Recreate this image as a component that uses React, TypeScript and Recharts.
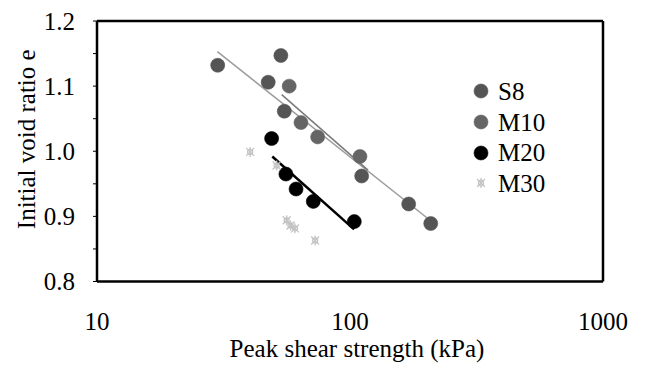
import React from "react";
import { ComposedChart, Scatter, XAxis, YAxis, Legend } from "recharts";

const S8_X = [30.0, 47.5, 53.3, 55.0, 111.2, 170.6, 208.5];
const S8_Y = [1.132, 1.106, 1.147, 1.0615, 0.962, 0.919, 0.889];
const M10_X = [57.5, 64.0, 74.5, 109.5];
const M10_Y = [1.1, 1.044, 1.022, 0.992];
const M20_X = [49.0, 55.8, 61.2, 71.6, 104];
const M20_Y = [1.0195, 0.965, 0.942, 0.923, 0.892];
const M30_X = [40.3, 51.3, 56.2, 58.2, 60.6, 72.8];
const M30_Y = [0.999, 0.978, 0.894, 0.886, 0.8816, 0.863];

// trend line end points
const S8_FIT_X = [29.9, 220];
const S8_FIT_Y = [1.153, 0.886];
const M10_FIT_X = [53.7, 117.8];
const M10_FIT_Y = [1.087, 0.971];
const M20_FIT_X = [49.3, 103.8];
const M20_FIT_Y = [0.992, 0.88];

const X_DOMAIN = [10, 1000];
const Y_DOMAIN = [0.8, 1.2];
const X_TICKS = [10, 100, 1000];
const Y_TICKS = [0.8, 0.85, 0.9, 0.95, 1.0, 1.05, 1.1, 1.15, 1.2];
const SERIES_NAMES = ["S8", "M10", "M20", "M30"];

const zip = (xs: number[], ys: number[]) => xs.map((x, i) => ({ x, y: ys[i] }));

const FONT = "'Liberation Serif', 'Times New Roman', serif";
const COLORS: Record<string, string> = {
  S8: "#555555",
  M10: "#656565",
  M20: "#000000",
  M30: "#c4c4c4",
};
const BORDER = { stroke: "#000", strokeWidth: 2.5 };

const Dot = ({ cx, cy, fill }: any) => (
  <circle cx={cx} cy={cy} r={7} fill={fill} stroke={fill} strokeOpacity={0.6} strokeWidth={1} />
);

const Star = ({ cx, cy }: any) => (
  <g stroke={COLORS.M30} strokeWidth={1.3}>
    <line x1={cx - 4} y1={cy - 4} x2={cx + 4} y2={cy + 4} />
    <line x1={cx - 4} y1={cy + 4} x2={cx + 4} y2={cy - 4} />
    <line x1={cx} y1={cy - 5} x2={cx} y2={cy + 5} />
    <circle cx={cx} cy={cy} r={2.5} fill="none" />
  </g>
);

const NoShape = () => <g />;

const LegendIcon = ({ name }: { name: string }) => (
  <svg width={16} height={16} style={{ display: "block" }}>
    {name === "M30" ? <Star cx={8} cy={8} /> : <Dot cx={8} cy={8} fill={COLORS[name]} />}
  </svg>
);

const renderLegend = () => (
  <div style={{ fontFamily: FONT, fontSize: 25, color: "#000" }}>
    {SERIES_NAMES.map((name) => (
      <div key={name} style={{ display: "flex", alignItems: "center", height: 30.7 }}>
        <LegendIcon name={name} />
        <span style={{ marginLeft: 9, lineHeight: 1 }}>{name}</span>
      </div>
    ))}
  </div>
);

const YTitle = ({ viewBox }: any) => {
  const cy = viewBox.y + viewBox.height / 2 - 12;
  return (
    <text
      x={26}
      y={cy}
      transform={`rotate(-90, 26, ${cy})`}
      textAnchor="middle"
      dominantBaseline="central"
      fontFamily={FONT}
      fontSize={25}
      fill="#000"
    >
      Initial void ratio e
    </text>
  );
};

export default function App() {
  const tickStyle = { fontFamily: FONT, fontSize: 25, fill: "#000" };
  return (
    <div style={{ position: "absolute", left: 0, top: 0, background: "#fff" }}>
      <ComposedChart
        width={645}
        height={365}
        margin={{ top: 20, right: 41, bottom: 0, left: 0 }}
      >
        <XAxis
          type="number"
          dataKey="x"
          scale="log"
          domain={X_DOMAIN}
          ticks={X_TICKS}
          axisLine={BORDER}
          tickLine={false}
          tickSize={0}
          tickMargin={31}
          tick={tickStyle}
          height={83.5}
          label={{
            value: "Peak shear strength (kPa)",
            position: "insideBottom",
            offset: 8,
            dx: 7,
            style: { fontFamily: FONT, fontSize: 25, fill: "#000" },
          }}
        />
        <XAxis
          xAxisId="top"
          orientation="top"
          type="number"
          dataKey="x"
          scale="log"
          domain={X_DOMAIN}
          ticks={X_TICKS}
          axisLine={BORDER}
          tick={false}
          tickLine={false}
          height={1}
        />
        <YAxis
          type="number"
          dataKey="y"
          domain={Y_DOMAIN}
          ticks={Y_TICKS}
          interval={0}
          width={97}
          axisLine={BORDER}
          tickSize={4}
          tickLine={{ stroke: "#000", strokeWidth: 1 }}
          tickMargin={18}
          tick={tickStyle}
          tickFormatter={(v: number) =>
            Math.abs(v * 10 - Math.round(v * 10)) < 1e-6 ? v.toFixed(1) : ""
          }
          label={<YTitle />}
        />
        <YAxis
          yAxisId="right"
          orientation="right"
          type="number"
          dataKey="y"
          domain={Y_DOMAIN}
          ticks={Y_TICKS}
          axisLine={BORDER}
          tick={false}
          tickLine={false}
          width={1}
        />
        {/* the S8 fit sits on the mirrored top/right axes (same domains) so those frame sides are drawn */}
        <Scatter
          name="S8 fit"
          xAxisId="top"
          yAxisId="right"
          data={zip(S8_FIT_X, S8_FIT_Y)}
          line={{ stroke: "#9c9c9c", strokeWidth: 1.5 }}
          shape={NoShape}
          legendType="none"
          isAnimationActive={false}
        />
        <Scatter
          name="M10 fit"
          data={zip(M10_FIT_X, M10_FIT_Y)}
          line={{ stroke: "#7a7a7a", strokeWidth: 1.5 }}
          shape={NoShape}
          legendType="none"
          isAnimationActive={false}
        />
        <Scatter
          name="M20 fit"
          data={zip(M20_FIT_X, M20_FIT_Y)}
          line={{ stroke: "#000", strokeWidth: 2.5 }}
          shape={NoShape}
          legendType="none"
          isAnimationActive={false}
        />
        <Scatter
          name="S8"
          data={zip(S8_X, S8_Y)}
          fill={COLORS.S8}
          shape={(p: any) => <Dot {...p} fill={COLORS.S8} />}
          isAnimationActive={false}
        />
        <Scatter
          name="M10"
          data={zip(M10_X, M10_Y)}
          fill={COLORS.M10}
          shape={(p: any) => <Dot {...p} fill={COLORS.M10} />}
          isAnimationActive={false}
        />
        <Scatter
          name="M20"
          data={zip(M20_X, M20_Y)}
          fill={COLORS.M20}
          shape={(p: any) => <Dot {...p} fill={COLORS.M20} />}
          isAnimationActive={false}
        />
        <Scatter
          name="M30"
          data={zip(M30_X, M30_Y)}
          fill={COLORS.M30}
          shape={(p: any) => <Star {...p} />}
          isAnimationActive={false}
        />
        <Legend
          layout="vertical"
          align="center"
          verticalAlign="middle"
          content={renderLegend}
          wrapperStyle={{ left: 473, top: 76, width: 110 }}
        />
      </ComposedChart>
    </div>
  );
}
